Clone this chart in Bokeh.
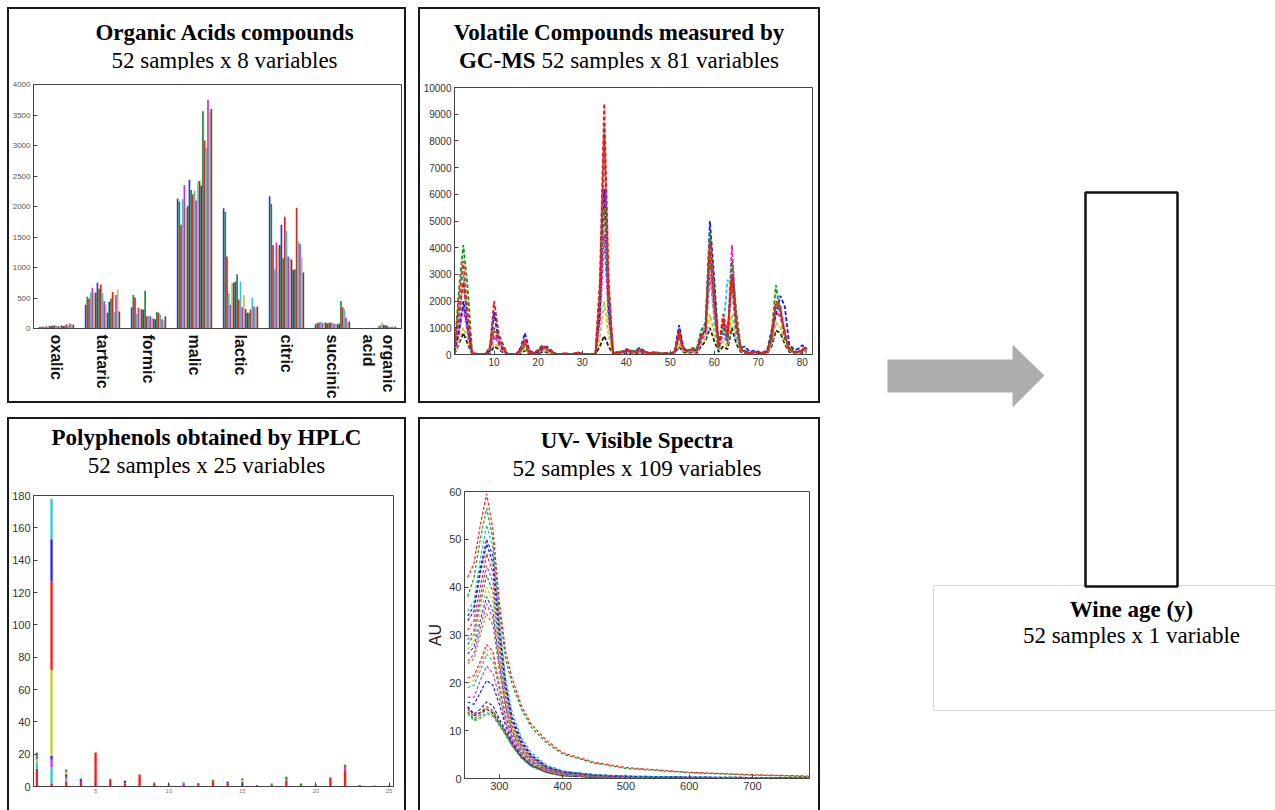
import math
from bokeh.plotting import figure
from bokeh.models import Range1d, FixedTicker, Div, ColumnDataSource
from bokeh.layouts import row, column
from bokeh.core.properties import value
from bokeh.embed import file_html
from bokeh.resources import INLINE

# ====================== DATA ======================
# --- Organic acids (bar heights of the visible bars in each group)
acid_names = ["oxalic", "tartaric", "formic", "malic", "lactic", "citric", "succinic", "organic\nacid"]
oxalic = [25, 30, 30, 30, 35, 35, 40, 45, 50, 50, 45, 40, 45, 50, 40, 45, 70, 50, 80, 75, 60]
tartaric = [390, 520, 490, 590, 670, 580, 590, 750, 650, 720, 580, 450, 390, 260, 440, 490, 600, 270, 550, 640, 280]
formic = [350, 550, 510, 240, 340, 330, 310, 310, 620, 200, 210, 200, 180, 160, 150, 270, 260, 230, 150, 130, 200]
malic = [2130, 2080, 1700, 2120, 2350, 1980, 2010, 2440, 2270, 2200, 2260, 2100, 2410, 2420, 2340, 3560, 3080, 2960, 3750, 3560, 3600]
lactic = [1970, 1910, 1180, 580, 390, 750, 750, 770, 890, 470, 770, 350, 550, 320, 260, 260, 310, 500, 360, 340, 360]
citric = [2170, 2040, 1370, 970, 1410, 1360, 1370, 1700, 1150, 1830, 1600, 1180, 1160, 1130, 960, 970, 1980, 1430, 1390, 1160, 920]
succinic = [70, 90, 100, 105, 90, 95, 100, 80, 95, 100, 90, 75, 80, 70, 80, 450, 350, 320, 180, 120, 110]
organic_acid = [0, 0, 0, 0, 0, 0, 0, 0, 0, 0, 40, 50, 100, 60, 55, 50, 30, 25, 30, 35, 30]
acid_groups = [oxalic, tartaric, formic, malic, lactic, citric, succinic, organic_acid]
acid_ticks = [0, 500, 1000, 1500, 2000, 2500, 3000, 3500, 4000]

# --- GC-MS volatile compounds (variables 1..81), representative sample profiles
gc_vars = list(range(1, 82))
gc_red1 = [50, 1500, 2700, 1300, 50, 30, 20, 10, 200, 2000,
           800, 300, 20, 10, 10, 200, 600, 100, 50, 150,
           300, 200, 100, 20, 10, 50, 20, 30, 80, 20,
           10, 10, 20, 2700, 9400, 2800, 50, 80, 100, 150,
           120, 100, 150, 100, 50, 80, 60, 30, 50, 20,
           100, 900, 200, 150, 200, 150, 600, 1000, 4200, 2000,
           300, 1500, 800, 3000, 1200, 200, 100, 50, 100, 80,
           50, 100, 600, 2000, 1800, 800, 200, 100, 100, 200, 300]
gc_cyan = [100, 1200, 3000, 900, 40, 20, 20, 10, 150, 1500,
           600, 200, 10, 10, 10, 100, 500, 80, 40, 100,
           250, 150, 80, 20, 10, 30, 20, 20, 50, 20,
           10, 10, 10, 1800, 8600, 1500, 60, 60, 90, 120,
           100, 80, 120, 90, 40, 60, 50, 30, 40, 20,
           80, 1000, 150, 100, 150, 120, 800, 1100, 3500, 1200,
           200, 900, 2800, 2500, 600, 150, 100, 50, 80, 60,
           50, 80, 500, 1800, 1600, 700, 150, 80, 80, 150, 200]
gc_green = [200, 2400, 4100, 2500, 60, 20, 20, 10, 300, 1000,
            700, 400, 30, 10, 10, 150, 300, 60, 40, 200,
            350, 250, 120, 20, 10, 40, 20, 30, 60, 20,
            10, 10, 10, 2500, 5500, 2300, 50, 100, 120, 150,
            150, 120, 200, 120, 60, 60, 80, 40, 50, 30,
            120, 700, 200, 150, 250, 200, 900, 1200, 4600, 2500,
            300, 1000, 500, 3500, 1600, 300, 150, 60, 100, 100,
            60, 100, 800, 2600, 1500, 600, 300, 150, 100, 150, 250]
gc_blue = [100, 800, 2000, 1000, 40, 20, 10, 10, 150, 1600,
           500, 200, 20, 10, 10, 250, 800, 150, 60, 100,
           250, 300, 150, 20, 10, 30, 20, 20, 60, 20,
           10, 10, 10, 1500, 6200, 1800, 60, 80, 100, 200,
           150, 120, 250, 150, 60, 80, 60, 30, 50, 20,
           100, 1100, 250, 150, 200, 150, 700, 900, 5000, 2800,
           250, 1200, 600, 3000, 1000, 250, 300, 100, 150, 100,
           80, 150, 900, 1500, 2200, 1800, 400, 200, 200, 350, 200]
gc_magenta = [60, 900, 1800, 800, 30, 10, 10, 10, 100, 700,
              400, 150, 10, 10, 10, 100, 400, 60, 30, 80,
              200, 150, 60, 10, 10, 20, 10, 20, 40, 10,
              10, 10, 10, 1200, 4500, 1300, 40, 60, 80, 100,
              80, 80, 100, 80, 40, 40, 40, 20, 30, 20,
              60, 600, 150, 100, 120, 100, 500, 800, 3000, 1500,
              200, 800, 400, 4100, 1200, 200, 100, 50, 80, 60,
              40, 80, 500, 1600, 1400, 900, 200, 100, 80, 100, 150]
gc_yellow = [30, 500, 1000, 600, 20, 10, 10, 10, 80, 400,
             300, 100, 10, 10, 10, 80, 200, 40, 20, 60,
             150, 100, 50, 10, 10, 20, 10, 10, 30, 10,
             10, 10, 10, 600, 2000, 700, 30, 40, 60, 80,
             60, 60, 80, 60, 30, 40, 30, 20, 30, 10,
             50, 400, 100, 80, 100, 80, 400, 600, 1500, 800,
             150, 500, 300, 1500, 600, 150, 80, 40, 60, 50,
             30, 60, 400, 1200, 1000, 500, 150, 80, 60, 80, 100]
gc_black = [20, 400, 800, 400, 20, 10, 10, 10, 50, 300,
            200, 80, 10, 10, 10, 50, 150, 30, 20, 40,
            100, 80, 40, 10, 10, 10, 10, 10, 20, 10,
            10, 10, 10, 300, 700, 300, 20, 30, 50, 60,
            50, 40, 60, 40, 20, 30, 20, 10, 20, 10,
            40, 300, 80, 60, 80, 60, 300, 500, 1000, 500,
            100, 300, 200, 1000, 400, 100, 60, 30, 50, 40,
            20, 40, 300, 900, 800, 400, 100, 60, 50, 60, 80]
gc_red2 = [80, 2000, 3500, 1500, 50, 20, 20, 10, 250, 900,
           500, 250, 20, 10, 10, 150, 450, 80, 40, 120,
           300, 200, 100, 20, 10, 40, 20, 20, 70, 20,
           10, 10, 10, 2200, 8100, 2500, 50, 70, 90, 130,
           110, 90, 130, 100, 50, 70, 50, 30, 40, 20,
           90, 800, 180, 120, 180, 140, 700, 900, 3800, 1800,
           250, 1300, 700, 2800, 1100, 180, 100, 50, 90, 70,
           50, 90, 600, 1900, 1700, 750, 180, 90, 90, 180, 250]
gc_profiles = [gc_black, gc_yellow, gc_magenta, gc_cyan, gc_blue, gc_green, gc_red2, gc_red1]
gc_xticks = [10, 20, 30, 40, 50, 60, 70, 80]
gc_yticks = [0, 1000, 2000, 3000, 4000, 5000, 6000, 7000, 8000, 9000, 10000]

# --- HPLC polyphenols: stacked contributions per variable (1..25)
hplc_vars = list(range(1, 26))
hplc_red = [11, 2, 3, 3, 21, 4.5, 1.5, 7.5, 1.5, 0.3, 1.2, 2, 3, 2, 1.5, 0, 1.2, 3.5, 1, 0.8, 5.5, 10, 1, 0, 0]
hplc_cyan = [4, 10, 2, 0, 0, 0, 0, 0, 0, 0.4, 0, 0, 0, 0, 0, 0, 0, 0, 0, 0, 0, 0, 0, 0.8, 1]
hplc_magenta = [0, 5, 1, 0, 0, 0, 0.8, 0, 1, 0, 0, 0, 0, 0, 1, 1, 0, 1, 0, 0, 0, 2, 0, 0, 0]
hplc_blue = [0, 2, 1.5, 1.5, 0, 0, 1.2, 0, 0, 0, 0.4, 0, 0, 1, 0.5, 0, 0, 0, 0, 0, 0, 0, 0, 0, 0]
hplc_yellow = [2, 53, 1.5, 0, 0, 0.5, 0, 0, 0, 0, 0, 0, 0, 0, 1, 0, 0, 0, 0, 0, 0, 0, 0, 0, 0]
hplc_red_b = [0, 55, 0, 0, 0, 0, 0, 0, 0, 0, 0, 0, 0, 0, 0, 0, 0, 0, 0, 0, 0, 0, 0, 0, 0]
hplc_blue_b = [0, 26, 0, 0, 0, 0, 0, 0, 0, 0, 0, 0, 0, 0, 0, 0, 0, 0, 0, 0, 0, 0, 0, 0, 0]
hplc_cyan_b = [0, 25, 0, 0, 0, 0, 0, 0, 0, 0, 0, 0, 0, 0, 0, 0, 0, 0, 0, 0, 0, 0, 0, 0, 0]
hplc_gray = [2, 0, 1, 0, 0, 0, 0, 0, 0, 0.6, 0.3, 0, 0, 0, 0, 0, 0, 0, 0, 0.4, 0, 0, 0, 0, 0]
hplc_green = [2, 0, 0.5, 0.5, 0, 0, 0, 0, 0, 0.4, 0.5, 0, 1, 0, 1, 0, 0.6, 1.5, 0.8, 0, 0, 1.5, 0, 0, 0]
hplc_xticks = [5, 10, 15, 20, 25]
hplc_yticks = [0, 20, 40, 60, 80, 100, 120, 140, 160, 180]

# --- UV-Visible spectra (wavelength nm -> AU), representative samples
uv_wl = [250, 260, 270, 280, 290, 300, 310, 320, 335, 350, 375, 400, 450, 500, 600, 700, 790]
uv_s01 = [42, 45, 53, 59.5, 52, 37, 26.5, 21, 15.2, 11.4, 7.9, 5.4, 3.4, 2.3, 1.3, 0.8, 0.5]
uv_s02 = [38, 42, 50, 56.5, 50, 35, 25, 19.8, 14.5, 10.8, 7.4, 5.1, 3.2, 2.1, 1.2, 0.7, 0.4]
uv_s03 = [35, 37, 46, 53, 48, 33, 21, 14, 8.5, 5.5, 2.8, 1.6, 0.8, 0.5, 0.3, 0.2, 0.1]
uv_s04 = [34, 36, 44, 50, 46.5, 32, 20, 13, 8, 5, 2.5, 1.5, 0.8, 0.5, 0.3, 0.2, 0.1]
uv_s05 = [33, 35, 43, 49, 45, 31, 19.5, 12.5, 7.5, 4.8, 2.4, 1.4, 0.7, 0.4, 0.3, 0.2, 0.1]
uv_s06 = [31, 33, 40, 47, 43, 30, 19, 12, 7.2, 4.6, 2.3, 1.3, 0.7, 0.4, 0.2, 0.1, 0.1]
uv_s07 = [29, 31, 38, 44.5, 41, 28.5, 18, 11.5, 7, 4.4, 2.2, 1.2, 0.6, 0.4, 0.2, 0.1, 0.1]
uv_s08 = [28, 30, 36.5, 42.5, 39, 27, 17, 11, 6.7, 4.2, 2.1, 1.2, 0.6, 0.3, 0.2, 0.1, 0.1]
uv_s09 = [27, 28.5, 34.5, 40, 37, 25.5, 16, 10.5, 6.4, 4, 2, 1.1, 0.6, 0.3, 0.2, 0.1, 0]
uv_s10 = [26, 27.5, 33, 38, 35, 24.5, 15.5, 10, 6.2, 3.9, 1.9, 1, 0.5, 0.3, 0.2, 0.1, 0]
uv_s11 = [24.5, 26, 31.5, 36.5, 33.5, 23.5, 15, 9.7, 6, 3.7, 1.8, 1, 0.5, 0.3, 0.2, 0.1, 0]
uv_s12 = [24, 25, 30, 34.5, 32, 22.5, 14.5, 9.4, 5.8, 3.6, 1.8, 0.9, 0.5, 0.3, 0.1, 0.1, 0]
uv_s13 = [21, 21.5, 24.5, 28, 26.5, 19.5, 13, 8.8, 5.5, 3.4, 1.7, 0.9, 0.4, 0.2, 0.1, 0.1, 0]
uv_s14 = [20, 20.5, 23.5, 27, 25.5, 19, 12.7, 8.6, 5.3, 3.3, 1.6, 0.8, 0.4, 0.2, 0.1, 0, 0]
uv_s15 = [19, 19.5, 22.5, 26, 24.5, 18.5, 12.5, 8.5, 5.2, 3.2, 1.6, 0.8, 0.4, 0.2, 0.1, 0, 0]
uv_s16 = [17, 17, 20.5, 23.5, 22, 17, 11.8, 8.2, 5, 3.1, 1.5, 0.8, 0.4, 0.2, 0.1, 0, 0]
uv_s17 = [16, 15.5, 18, 20.5, 19.5, 15.5, 11, 7.8, 4.8, 3, 1.5, 0.7, 0.3, 0.2, 0.1, 0, 0]
uv_s18 = [15, 13.5, 14.5, 16, 15.2, 12.5, 10, 7.5, 4.6, 2.9, 1.4, 0.7, 0.3, 0.2, 0.1, 0, 0]
uv_s19 = [14.5, 13, 13.8, 15, 14.2, 12, 9.8, 7.3, 4.5, 2.8, 1.3, 0.6, 0.3, 0.1, 0.1, 0, 0]
uv_s20 = [14, 12.5, 13.3, 14.5, 13.8, 11.6, 9.5, 7.1, 4.4, 2.7, 1.3, 0.6, 0.3, 0.1, 0, 0, 0]
uv_s21 = [13.8, 12.2, 12.8, 13.8, 13.2, 11.2, 9.2, 6.9, 4.3, 2.6, 1.2, 0.6, 0.3, 0.1, 0, 0, 0]
uv_s22 = [13.5, 12, 12.5, 13.5, 13, 11, 9, 6.8, 4.2, 2.5, 1.2, 0.5, 0.2, 0.1, 0, 0, 0]
uv_s23 = [15, 13.2, 13.8, 14.5, 13.6, 11.5, 9.4, 7, 4.4, 2.7, 1.3, 0.6, 0.3, 0.1, 0, 0, 0]
uv_samples = [uv_s23, uv_s22, uv_s21, uv_s20, uv_s19, uv_s18, uv_s17, uv_s16, uv_s15, uv_s14,
              uv_s13, uv_s12, uv_s11, uv_s10, uv_s09, uv_s08, uv_s07, uv_s06, uv_s05, uv_s04,
              uv_s03, uv_s02, uv_s01]
uv_xticks = [300, 400, 500, 600, 700]
uv_yticks = [0, 10, 20, 30, 40, 50, 60]

# ====================== STYLE ======================
SERIF = "'Liberation Serif', 'Times New Roman', serif"
SANS = "Liberation Sans"
BAR_COLORS = ["#3535d8", "#1e8a3c", "#e52222", "#3cc4c4", "#c834c8", "#c4c43a", "#505050"]
GC_COLORS = ["#222222", "#cccc00", "#dd22dd", "#22cccc", "#1a1aff", "#139a13", "#ee2020", "#ff1010"]
UV_COLORS = ["#222222", "#a0a020", "#22bbbb", "#1a9a1a", "#ee2222", "#2222ee", "#1a1aee", "#cc33cc",
             "#22bbbb", "#c8c820", "#ee2222", "#999922", "#cc33cc", "#3344ee", "#c8c820", "#1a9a1a",
             "#cc33cc", "#ee2222", "#1a1aee", "#2222cc", "#22bbbb", "#1a9a1a", "#ff1a1a"]
HPLC_LAYERS = ["red", "cyan", "magenta", "blue", "yellow", "red_b", "blue_b", "cyan_b", "gray", "green"]
HPLC_COLORS = ["#ff1a1a", "#33cccc", "#dd33dd", "#2222ee", "#cccc33", "#ff1a1a", "#2a2aee", "#33cccc", "#777777", "#229922"]


def base_style(p, lbl_size, lbl_color="#333333"):
    p.xgrid.visible = False
    p.ygrid.visible = False
    p.outline_line_color = "#444444"
    p.outline_line_width = 1
    p.background_fill_color = "white"
    p.border_fill_color = "white"
    for ax in p.axis:
        ax.major_label_text_font = SANS
        ax.major_label_text_font_size = lbl_size
        ax.major_label_text_color = lbl_color
        ax.major_tick_in = 4
        ax.major_tick_out = 0
        ax.minor_tick_line_color = None
        ax.axis_line_color = "#444444"
        ax.major_tick_line_color = "#444444"
        ax.major_label_standoff = 3


def header(html, width, pad_top, pad_left=0):
    return Div(text=(f'<div style="font-family:{SERIF};font-size:23px;line-height:28px;'
                     f'text-align:center;color:#000;width:{width}px;box-sizing:border-box;'
                     f'padding-top:{pad_top}px;padding-left:{pad_left}px;">'
                     f'{html}</div>'), width=width, height=60, margin=0)


def panel(div, fig, margin):
    return column(div, fig, margin=margin, styles={"outline": "2px solid #1a1a1a"})


# ====================== PANEL 1: Organic acids ======================
p1 = figure(width=395, height=332, x_range=Range1d(0.5, 8.5), y_range=Range1d(0, 4000),
            min_border_left=23, min_border_right=3, min_border_top=15, min_border_bottom=67,
            toolbar_location=None, output_backend="svg")
n_bars = len(oxalic)
group_w = 0.77
bw = group_w / n_bars
bx, btop, bcol = [], [], []
for g, vals in enumerate(acid_groups, start=1):
    for i, v in enumerate(vals):
        bx.append(g - group_w / 2 + (i + 0.5) * bw)
        btop.append(v)
        bcol.append(BAR_COLORS[i % len(BAR_COLORS)])
p1.vbar(x="x", top="top", width=bw, bottom=0, fill_color="c", line_color=None,
        source=ColumnDataSource(dict(x=bx, top=btop, c=bcol)))
p1.xaxis.ticker = FixedTicker(ticks=list(range(1, 9)))
p1.xaxis.major_label_overrides = {i + 1: n for i, n in enumerate(acid_names)}
p1.yaxis.ticker = FixedTicker(ticks=acid_ticks)
base_style(p1, "8px", "#555555")
p1.xaxis.major_label_orientation = -math.pi / 2
p1.xaxis.major_label_text_font_size = "16px"
p1.xaxis.major_label_text_font_style = "bold"
p1.xaxis.major_label_text_color = "#111111"
p1.xaxis.major_label_standoff = 6
p1.xaxis.major_tick_in = 0

# ====================== PANEL 2: GC-MS ======================
p2 = figure(width=398, height=332, x_range=Range1d(1, 82.3), y_range=Range1d(0, 10000),
            min_border_left=33, min_border_right=6, min_border_top=18, min_border_bottom=47,
            toolbar_location=None, output_backend="svg")
for prof, col in zip(gc_profiles, GC_COLORS):
    p2.line(gc_vars, prof, line_color=col, line_width=1.8, line_dash="4 2")
p2.xaxis.ticker = FixedTicker(ticks=gc_xticks)
p2.yaxis.ticker = FixedTicker(ticks=gc_yticks)
base_style(p2, "10px")

# ====================== PANEL 3: HPLC ======================
p3 = figure(width=395, height=331, x_range=Range1d(0.77, 25.3), y_range=Range1d(0, 180),
            min_border_left=23, min_border_right=11, min_border_top=16, min_border_bottom=24,
            toolbar_location=None, output_backend="svg")
hsrc = ColumnDataSource(dict(x=hplc_vars, red=hplc_red, cyan=hplc_cyan, magenta=hplc_magenta,
                             blue=hplc_blue, yellow=hplc_yellow, red_b=hplc_red_b, blue_b=hplc_blue_b,
                             cyan_b=hplc_cyan_b, gray=hplc_gray, green=hplc_green))
p3.vbar_stack(HPLC_LAYERS, x="x", width=0.16, color=HPLC_COLORS, line_color=None, source=hsrc)
p3.xaxis.ticker = FixedTicker(ticks=hplc_xticks)
p3.yaxis.ticker = FixedTicker(ticks=hplc_yticks)
base_style(p3, "11px")
p3.xaxis.major_label_text_font_size = "6px"
p3.xaxis.major_label_text_color = "#777777"
p3.xaxis.major_label_standoff = 2

# ====================== PANEL 4: UV-Vis ======================
p4 = figure(width=398, height=331, x_range=Range1d(245, 790), y_range=Range1d(0, 60),
            min_border_left=44, min_border_right=9, min_border_top=12, min_border_bottom=32,
            toolbar_location=None, output_backend="svg")
for s, col in zip(uv_samples, UV_COLORS):
    p4.line(uv_wl, s, line_color=col, line_width=1.2, line_dash="3 2")
p4.xaxis.ticker = FixedTicker(ticks=uv_xticks)
p4.yaxis.ticker = FixedTicker(ticks=uv_yticks)
base_style(p4, "11px")
p4.yaxis.axis_label = "AU"
p4.yaxis.axis_label_text_font = SANS
p4.yaxis.axis_label_text_font_size = "16px"
p4.yaxis.axis_label_text_font_style = "normal"
p4.yaxis.axis_label_text_color = "#222222"
p4.yaxis.axis_label_standoff = 2

# ====================== Headers / panels ======================
d1 = header("<b>Organic Acids compounds</b><br>52 samples x 8 variables", 395, 10, 36)
d2 = header("<b>Volatile Compounds measured by<br>GC-MS</b> 52 samples x 81 variables", 398, 10, 0)
d3 = header("<b>Polyphenols obtained by HPLC</b><br>52 samples x 25 variables", 395, 5, 0)
d4 = header("<b>UV- Visible Spectra</b><br>52 samples x 109 variables", 398, 8, 36)

c1 = panel(d1, p1, (9, 0, 0, 9))
c2 = panel(d2, p2, (9, 0, 0, 16))
c3 = panel(d3, p3, (18, 0, 0, 9))
c4 = panel(d4, p4, (18, 0, 0, 16))

# ====================== Right side: arrow, y block, caption ======================
pr = figure(width=453, height=810, x_range=Range1d(822, 1275), y_range=Range1d(810, 0),
            min_border=0, toolbar_location=None, output_backend="svg",
            x_axis_location=None, y_axis_location=None, margin=(0, 0, 0, 4))
pr.grid.visible = False
pr.outline_line_color = None
arrow_x = [887, 1012, 1012, 1044, 1012, 1012, 887]
arrow_y = [359, 359, 344, 375, 407, 392, 392]
pr.patch(arrow_x, arrow_y, fill_color="#b0aeac", line_color=None)
pr.segment(x0=[933, 933, 933], y0=[585, 710, 585], x1=[1275, 1275, 933], y1=[585, 710, 710],
           line_color="#d6d6d6", line_width=1)
pr.quad(left=[1085], right=[1177], top=[192], bottom=[586], fill_color="white",
        line_color="#111111", line_width=2.5)
pr.text(x=[1131], y=[609], text=["Wine age (y)"], text_font=value("Liberation Serif"),
        text_font_size="23px", text_font_style="bold", text_align="center",
        text_baseline="middle", text_color="#000000")
pr.text(x=[1131], y=[635], text=["52 samples x 1 variable"], text_font=value("Liberation Serif"),
        text_font_size="23px", text_align="center", text_baseline="middle", text_color="#000000")

layout = row(column(row(c1, c2), row(c3, c4)), pr)

open("out.html", "w").write(file_html(layout, INLINE))
